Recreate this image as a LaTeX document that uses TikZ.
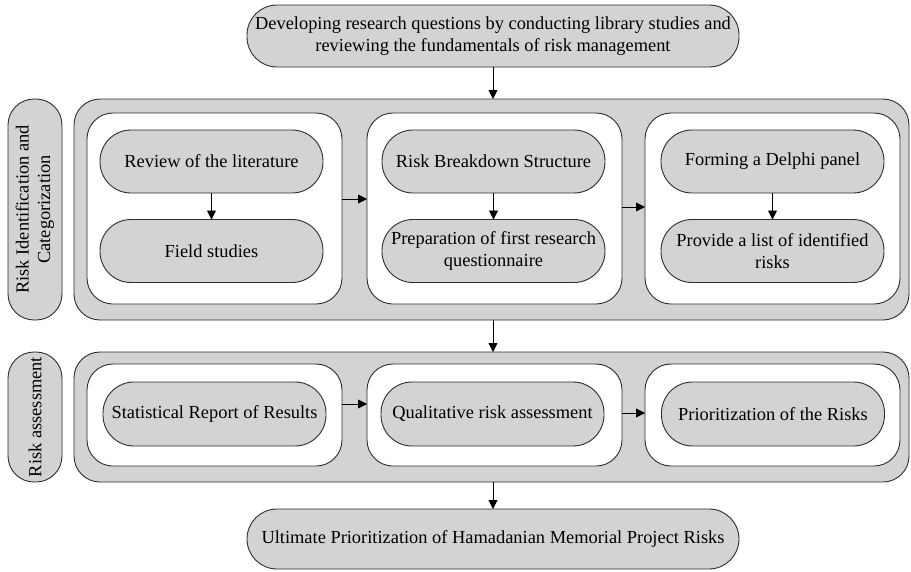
\documentclass[tikz,border=0pt]{standalone}
\usepackage{fontspec}
\setmainfont{Liberation Serif}
\usetikzlibrary{arrows.meta}
\definecolor{boxgray}{RGB}{211,211,211}
\definecolor{edgegray}{RGB}{45,45,45}
\begin{document}
\begin{tikzpicture}[x=1pt,y=-1pt,
  every node/.style={font=\fontsize{18.4}{21.5}\selectfont, inner sep=0pt, outer sep=0pt},
  base/.style={draw=edgegray, line width=0.9pt, rectangle, align=center},
  pill/.style={base, fill=boxgray, minimum width=223pt, minimum height=63pt, rounded corners=31pt},
  wbox/.style={base, fill=white, minimum width=255pt, rounded corners=26pt},
  panel/.style={base, fill=boxgray, minimum width=835pt, rounded corners=26pt},
  sidelabel/.style={base, fill=boxgray, minimum height=54pt, rounded corners=26pt, rotate=90},
  endbox/.style={base, fill=boxgray, minimum width=492pt, rounded corners=30pt},
  arr/.style={-{Triangle[length=9pt,width=9pt]}, line width=0.9pt, draw=black}
]
\useasboundingbox (0,0) rectangle (911,571);

% top and bottom
\node[endbox, minimum height=62pt] (top) at (493,36)
  {Developing research questions by conducting library studies and\\reviewing the fundamentals of risk management};
\node[endbox, minimum height=60pt] (bottom) at (493,539)
  {Ultimate Prioritization of Hamadanian Memorial Project Risks};

% panels
\node[panel, minimum height=221pt] (p1) at (491.5,209.5) {};
\node[panel, minimum height=130pt] (p2) at (491.5,417) {};
\node[sidelabel, minimum width=221pt] (l1) at (35,209.5) {Risk Identification and\\Categorization};
\node[sidelabel, minimum width=130pt] (l2) at (35,417) {Risk assessment};

% row 1 white boxes
\node[wbox, minimum height=191pt] (w1) at (214.5,208.5) {};
\node[wbox, minimum height=191pt] (w2) at (494.5,208.5) {};
\node[wbox, minimum height=191pt] (w3) at (772.5,208.5) {};

\node[pill] (a1) at (211.5,161.5) {Review of the literature};
\node[pill] (b1) at (211.5,251) {Field studies};
\node[pill] (a2) at (493.5,161.5) {Risk Breakdown Structure};
\node[pill] (b2) at (493.5,251) {Preparation of first research\\questionnaire};
\node[pill] (a3) at (772.5,161.5) {Forming a Delphi panel};
\node[pill] (b3) at (772.5,251) {Provide a list of identified\\risks};

% row 2 white boxes
\node[wbox, minimum height=102pt] (v1) at (214.5,415) {};
\node[wbox, minimum height=102pt] (v2) at (494.5,415) {};
\node[wbox, minimum height=102pt] (v3) at (772.5,415) {};

\node[pill, minimum height=64pt] (c1) at (214.5,414) {Statistical Report of Results};
\node[pill, minimum height=64pt] (c2) at (492.5,414) {Qualitative risk assessment};
\node[pill, minimum height=64pt] (c3) at (773,414) {Prioritization of the Risks};

% connectors
\draw[arr] (top.south) -- (top.south |- p1.north);
\draw[arr] (p1.south -| top.south) -- (p2.north -| top.south);
\draw[arr] (p2.south -| top.south) -- (bottom.north);

\draw[arr] (a1) -- (b1);
\draw[arr] (a2) -- (b2);
\draw[arr] (a3) -- (b3);

\draw[arr] ([yshift=9.5pt]w1.east) -- ([yshift=9.5pt]w2.west);
\draw[arr] ([yshift=1.5pt]w2.east) -- ([yshift=1.5pt]w3.west);
\draw[arr] ([yshift=11pt]v1.east) -- ([yshift=11pt]v2.west);
\draw[arr] ([yshift=2pt]v2.east) -- ([yshift=2pt]v3.west);
\end{tikzpicture}
\end{document}
